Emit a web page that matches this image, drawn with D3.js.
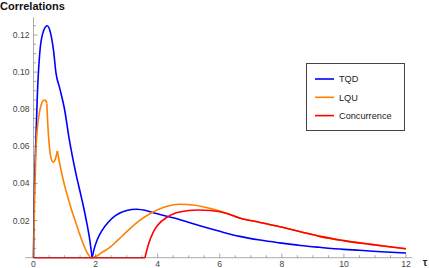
<!DOCTYPE html>
<html><head><meta charset="utf-8">
<script src="https://cdn.jsdelivr.net/npm/d3@7"></script>
<style>
html,body{margin:0;padding:0;background:#fff;}
svg{display:block;font-family:"Liberation Sans",Arial,sans-serif;}
</style></head>
<body><svg id="c" width="429" height="268"></svg>
<script>
// ---- data ----
const tqdTau = [0,0.02,0.05,0.08,0.12,0.2,0.3,0.44,0.55,0.65,0.72,0.85,1.0,1.15,1.37,1.55,1.69,1.8,1.89,
  1.95,2.05,2.2,2.4,2.65,3.0,3.32,3.65,3.96,4.5,5.04,5.36,6.0,6.64,7.3,7.93,8.6,9.22,10.0,10.5,11.2,12];
const tqdVal = [0,0.03,0.05,0.065,0.086,0.11,0.121,0.125,0.121,0.111,0.100,0.091,0.080,0.064,0.045,0.032,0.021,0.011,0,
  0.0045,0.0095,0.0145,0.0190,0.0228,0.0254,0.0261,0.0253,0.0238,0.0215,0.0188,0.0172,0.0142,0.0115,0.0095,0.0080,0.0066,0.0056,0.0045,0.0040,0.0032,0.0025];
const tqdCusps = [1.89];

const lquTau = [0,0.02,0.05,0.08,0.12,0.2,0.28,0.35,0.4,0.43,0.46,0.5,0.56,0.64,0.7,0.77,
  0.84,0.91,1.0,1.1,1.2,1.34,1.47,1.6,1.72,1.87,2.0,2.2,2.46,2.7,2.89,3.1,3.4,3.75,4.2,4.71,5.2,5.68,6.2,6.64,7.3,7.93,8.6,9.22,10.0,10.8,11.4,12];
const lquVal = [0,0.02,0.04,0.058,0.069,0.079,0.0838,0.085,0.0845,0.083,0.072,0.062,0.054,0.0514,0.053,0.0575,
  0.051,0.0455,0.039,0.033,0.0272,0.020,0.0135,0.0075,0.003,0,0.0006,0.0028,0.0055,0.0092,0.0122,0.0155,0.0198,0.0237,0.0272,0.0288,0.0283,0.0266,0.0241,0.0214,0.019,0.0167,0.0140,0.0115,0.0092,0.0073,0.0060,0.0048];
const lquCusps = [0.43,0.77];

const conTau = [0,3.59,3.7,3.85,4.0,4.3,4.6,5.0,5.3,5.7,6.2,6.64,7.3,7.93,8.6,9.22,10.0,10.8,11.4,12];
const conVal = [0,0,0.007,0.0135,0.0175,0.0218,0.0242,0.0254,0.0257,0.0254,0.0240,0.0214,0.019,0.0167,0.0140,0.0115,0.0092,0.0073,0.0060,0.0048];
const conCusps = [3.59];

const seriesNames = ["TQD","LQU","Concurrence"];
const seriesColors = ["#0000ff","#ff8000","#ff0000"];
const xTicks = [0,2,4,6,8,10,12];
const yTicks = [0.02,0.04,0.06,0.08,0.10,0.12];
const yTickLabels = ["0.02","0.04","0.06","0.08","0.10","0.12"];

// ---- chart ----
const svg = d3.select("#c");
const x = d3.scaleLinear().domain([0,12]).range([33.5,406]);
const y = d3.scaleLinear().domain([0,0.12]).range([257.7,35]);

function pieces(t,v,cusps){
  const out=[]; let cur=[];
  t.forEach((tt,i)=>{
    cur.push([tt,v[i]]);
    if(cusps.includes(tt) && i>0 && i<t.length-1){ out.push(cur); cur=[[tt,v[i]]]; }
  });
  out.push(cur); return out;
}
const line = d3.line().x(d=>x(d[0])).y(d=>y(d[1])).curve(d3.curveMonotoneX);
const series = [[tqdTau,tqdVal,tqdCusps],[lquTau,lquVal,lquCusps],[conTau,conVal,conCusps]];
series.forEach((s,k)=>{
  pieces(s[0],s[1],s[2]).forEach(p=>{
    svg.append("path").attr("d",line(p)).attr("fill","none")
      .attr("stroke",seriesColors[k]).attr("stroke-width",1.6)
      .attr("stroke-linejoin","round").attr("stroke-linecap","butt");
  });
});

// axes (drawn on top, semi-transparent gray)
const axCol = "rgba(90,90,90,0.5)";
const g = svg.append("g");
g.append("line").attr("x1",x(-0.27)).attr("x2",x(12.2)).attr("y1",y(0)).attr("y2",y(0)).attr("stroke",axCol).attr("stroke-width",1);
g.append("line").attr("x1",x(0)).attr("x2",x(0)).attr("y1",y(0)).attr("y2",y(0.1295)).attr("stroke",axCol).attr("stroke-width",1);
// x ticks
d3.range(0,12.01,0.5).forEach(t=>{
  const major = xTicks.includes(t);
  g.append("line").attr("x1",x(t)).attr("x2",x(t)).attr("y1",y(0)).attr("y2",y(0)-(major?4:2.5)).attr("stroke",axCol);
});
d3.range(0.005,0.1251,0.005).forEach(v=>{
  const major = yTicks.some(m=>Math.abs(m-v)<1e-9);
  g.append("line").attr("x1",x(0)).attr("x2",x(0)+(major?4:2.5)).attr("y1",y(v)).attr("y2",y(v)).attr("stroke",axCol);
});
g.selectAll("text.xt").data(xTicks).enter().append("text")
  .attr("x",d=>x(d)).attr("y",267).attr("text-anchor","middle")
  .attr("font-size",8.6).attr("fill","#444").text(d=>d);
g.selectAll("text.yt").data(yTicks).enter().append("text")
  .attr("x",29.5).attr("y",d=>y(d)+3).attr("text-anchor","end")
  .attr("font-size",8.6).attr("fill","#444").text((d,i)=>yTickLabels[i]);

svg.append("text").attr("x",425).attr("y",266).attr("text-anchor","middle")
  .attr("font-size",10).attr("font-weight","bold").attr("fill","#222").text("τ");
svg.append("text").attr("x",0).attr("y",10).attr("font-size",11)
  .attr("font-weight","bold").attr("fill","#111").text("Correlations");

// legend
const lg = svg.append("g");
lg.append("rect").attr("x",306.5).attr("y",63.5).attr("width",98).attr("height",67)
  .attr("fill","#fff").attr("stroke","#444").attr("stroke-width",1);
seriesNames.forEach((n,i)=>{
  const yy = 79 + i*18.3;
  lg.append("line").attr("x1",315).attr("x2",334).attr("y1",yy).attr("y2",yy)
    .attr("stroke",seriesColors[i]).attr("stroke-width",1.6);
  lg.append("text").attr("x",339).attr("y",yy+3.2).attr("font-size",9.2).attr("fill","#222").text(n);
});
</script></body></html>
